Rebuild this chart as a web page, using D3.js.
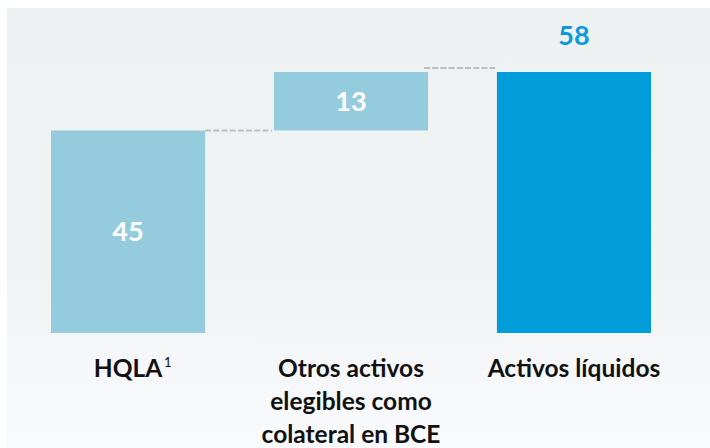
<!DOCTYPE html>
<html>
<head>
<meta charset="utf-8">
<script src="https://cdn.jsdelivr.net/npm/d3@7/dist/d3.min.js"></script>
<style>
  html, body { margin: 0; padding: 0; background: #ffffff; }
  svg { display: block; }
</style>
</head>
<body>
<svg id="chart" width="710" height="448"></svg>
<script>
// Waterfall: HQLA + other ECB-eligible collateral = liquid assets
const categories = ["HQLA", "Otros activos elegibles como colateral en BCE", "Activos líquidos"];
const categoryLines = [["HQLA"], ["Otros activos", "elegibles como", "colateral en BCE"], ["Activos líquidos"]];
const values = [45, 13, 58];
const barKinds = ["step", "step", "total"];

const W = 710, H = 448;
const svg = d3.select("#chart");

// panel background with soft vertical gradient
const defs = svg.append("defs");
const grad = defs.append("linearGradient").attr("id", "bg").attr("x1", 0).attr("y1", 0).attr("x2", 0).attr("y2", 1);
grad.append("stop").attr("offset", "0%").attr("stop-color", "#edf1f2");
grad.append("stop").attr("offset", "60%").attr("stop-color", "#f0f3f4");
grad.append("stop").attr("offset", "100%").attr("stop-color", "#f9fafb");
svg.append("rect").attr("x", 7).attr("y", 8).attr("width", W - 7).attr("height", H - 8).attr("fill", "url(#bg)");

const x = d3.scaleBand().domain(categories).range([51, 651]).paddingInner(0.309).paddingOuter(0);
const y = d3.scaleLinear().domain([0, 58]).range([333, 72]);

// running start/end for each bar
let run = 0;
const bars = categories.map((c, i) => {
  let y0, y1;
  if (barKinds[i] === "total") { y0 = 0; y1 = values[i]; run = values[i]; }
  else { y0 = run; y1 = run + values[i]; run = y1; }
  return { cat: c, lines: categoryLines[i], value: values[i], y0, y1, kind: barKinds[i] };
});

const colors = { step: "#95ccdd", total: "#009dda" };

// connectors between consecutive bars
const connectorLift = [0, 4];
for (let i = 0; i < bars.length - 1; i++) {
  const level = bars[i].y1;
  const x1 = i === 0 ? x(bars[i].cat) + x.bandwidth() : x(bars[i].cat) + x.bandwidth() - 4;
  const x2 = x(bars[i + 1].cat) - 2;
  svg.append("line")
    .attr("x1", x1).attr("x2", x2)
    .attr("y1", y(level) - connectorLift[i]).attr("y2", y(level) - connectorLift[i])
    .attr("stroke", "#b6bfc3").attr("stroke-width", 2.2)
    .attr("stroke-dasharray", "6,2.2");
}

svg.selectAll("rect.bar").data(bars).join("rect")
  .attr("class", "bar")
  .attr("x", d => x(d.cat))
  .attr("width", x.bandwidth())
  .attr("y", d => y(d.y1))
  .attr("height", d => y(d.y0) - y(d.y1))
  .attr("fill", d => colors[d.kind]);

const font = "Lato, 'Open Sans', sans-serif";

// value labels
svg.selectAll("text.val").data(bars).join("text")
  .attr("class", "val")
  .attr("x", d => x(d.cat) + x.bandwidth() / 2)
  .attr("y", d => d.kind === "total" ? y(d.y1) - 37 : (y(d.y0) + y(d.y1)) / 2)
  .attr("dy", "0.36em")
  .attr("text-anchor", "middle")
  .attr("font-family", font).attr("font-weight", 700).attr("font-size", 27)
  .attr("fill", d => d.kind === "total" ? "#0b9bd7" : "#ffffff")
  .text(d => d.value);

// category labels (multi-line)
const lab = svg.selectAll("text.cat").data(bars).join("text")
  .attr("class", "cat")
  .attr("text-anchor", "middle")
  .attr("font-family", font).attr("font-weight", 700).attr("font-size", 24.5)
  .attr("fill", "#111111");
lab.each(function (d) {
  const t = d3.select(this);
  d.lines.forEach((ln, j) => {
    t.append("tspan")
      .attr("x", x(d.cat) + x.bandwidth() / 2)
      .attr("y", 377 + j * 33)
      .text(ln);
  });
});

// footnote marker next to HQLA
const hq = bars[0];
svg.append("text")
  .attr("x", x(hq.cat) + x.bandwidth() / 2 + 36)
  .attr("y", 367)
  .attr("font-family", font).attr("font-size", 13)
  .attr("fill", "#111111")
  .text("1");
</script>
</body>
</html>
